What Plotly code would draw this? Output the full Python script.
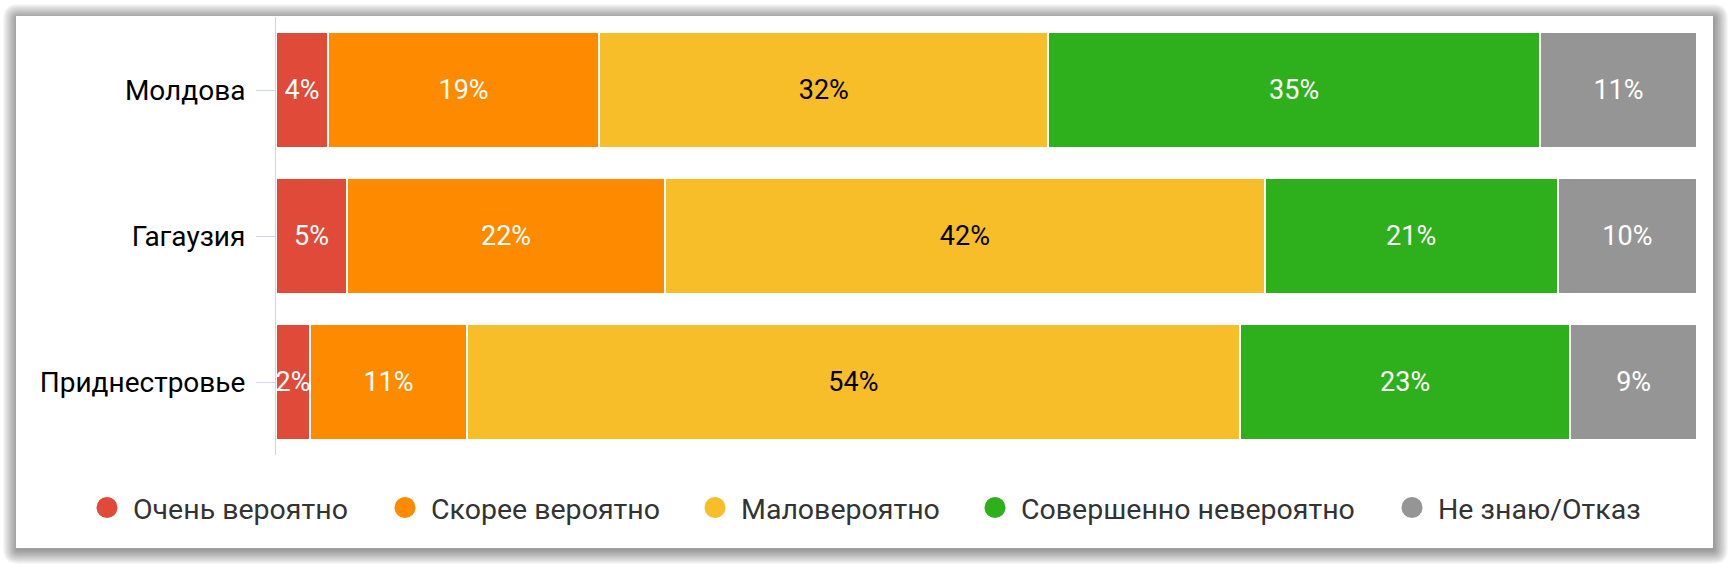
import plotly.graph_objects as go

# ---------------- data ----------------
regions = ["Молдова", "Гагаузия", "Приднестровье"]
series_names = ["Очень вероятно", "Скорее вероятно", "Маловероятно",
                "Совершенно невероятно", "Не знаю/Отказ"]
very_likely = [3.65, 5.0, 2.4]
rather_likely = [19.1, 22.4, 11.0]
unlikely = [31.6, 42.2, 54.3]
completely_unlikely = [34.6, 20.65, 23.2]
dont_know = [11.05, 9.8, 8.9]
series_values = [very_likely, rather_likely, unlikely, completely_unlikely, dont_know]

# ---------------- style ----------------
colors = ["#e04a38", "#fe8a00", "#f7be29", "#2eb01c", "#959595"]
label_colors = ["#ffffff", "#ffffff", "#000000", "#ffffff", "#ffffff"]
FONT = "Roboto"

W_FIG, H_FIG = 1730, 564
ML, MR, MT, MB = 276, 33, 17, 109
PW = W_FIG - ML - MR
PH = H_FIG - MT - MB

# legend symbol centres (pixels) and vertical centre
legend_dot_x = [107, 405, 715, 995, 1412]
legend_y_px = 508
ITEMWIDTH = 42


def px2x(px):
    return (px - ML) / PW


def py2y(py):
    return (H_FIG - MB - py) / PH


def rrect_path(x0, y0, x1, y1, r):
    pts = [
        ("M", [(x0 + r, y0)]),
        ("L", [(x1 - r, y0)]),
        ("Q", [(x1, y0), (x1, y0 + r)]),
        ("L", [(x1, y1 - r)]),
        ("Q", [(x1, y1), (x1 - r, y1)]),
        ("L", [(x0 + r, y1)]),
        ("Q", [(x0, y1), (x0, y1 - r)]),
        ("L", [(x0, y0 + r)]),
        ("Q", [(x0, y0), (x0 + r, y0)]),
    ]
    s = ""
    for cmd, ps in pts:
        s += cmd + " ".join(f"{px2x(a):.6f},{py2y(b):.6f}" for a, b in ps) + " "
    return s + "Z"


fig = go.Figure()

for name, vals, col, lcol in zip(series_names, series_values, colors, label_colors):
    fig.add_trace(go.Bar(
        y=regions, x=vals, name=name, orientation="h",
        marker=dict(color=col, line=dict(color="#ffffff", width=2)),
        text=[f"{round(v)}%" for v in vals],
        textposition="inside", insidetextanchor="middle",
        constraintext="none", textangle=0,
        textfont=dict(family=FONT, size=27, color=lcol),
        showlegend=False, hoverinfo="y+x",
    ))

# legend entries (one legend per item so spacing matches)
legend_layouts = {}
for i, (name, col) in enumerate(zip(series_names, colors)):
    key = "legend" if i == 0 else f"legend{i + 1}"
    fig.add_trace(go.Scatter(
        x=[None], y=[None], mode="markers", name=name,
        marker=dict(symbol="circle", size=16, color=col,
                    line=dict(color=col, width=5)),
        legend=key, showlegend=True,
    ))
    legend_layouts[key] = dict(
        orientation="h", xref="container", yref="container",
        x=(legend_dot_x[i] - ITEMWIDTH / 2 - 5) / W_FIG,
        y=1 - legend_y_px / H_FIG,
        xanchor="left", yanchor="middle",
        itemwidth=ITEMWIDTH,
        font=dict(family=FONT, size=28.5, color="#333333"),
        bgcolor="rgba(0,0,0,0)", borderwidth=0,
    )

# card with shadow
shapes = []
CX0, CY0, CX1, CY1 = 16, 16, 1713, 548
for k in range(14, 0, -1):
    shapes.append(dict(
        type="path", xref="paper", yref="paper", layer="below",
        path=rrect_path(CX0 - k + 1, CY0 - k + 2, CX1 + k + 1, CY1 + k + 2, k + 1),
        fillcolor="rgba(0,0,0,0.03)", line=dict(width=0),
    ))
shapes.append(dict(
    type="rect", xref="paper", yref="paper", layer="below",
    x0=px2x(CX0), y0=py2y(CY1), x1=px2x(CX1), y1=py2y(CY0),
    fillcolor="#ffffff", line=dict(width=0),
))

fig.update_layout(
    width=W_FIG, height=H_FIG,
    margin=dict(l=ML, r=MR, t=MT, b=MB, pad=0),
    paper_bgcolor="#ffffff", plot_bgcolor="rgba(0,0,0,0)",
    barmode="stack", barnorm="percent", bargap=0.2,
    font=dict(family=FONT, color="#000000"),
    shapes=shapes,
    xaxis=dict(visible=False, range=[0, 100], fixedrange=True),
    yaxis=dict(
        autorange="reversed", showgrid=False, zeroline=False,
        showline=True, linecolor="#ccd6eb", linewidth=1,
        ticks="outside", ticklen=19, tickcolor="#ccd6eb", tickwidth=1,
        tickfont=dict(family=FONT, size=28, color="#000000"),
        ticklabelstandoff=5,
    ),
    **legend_layouts,
)

fig.write_html("out.html")
